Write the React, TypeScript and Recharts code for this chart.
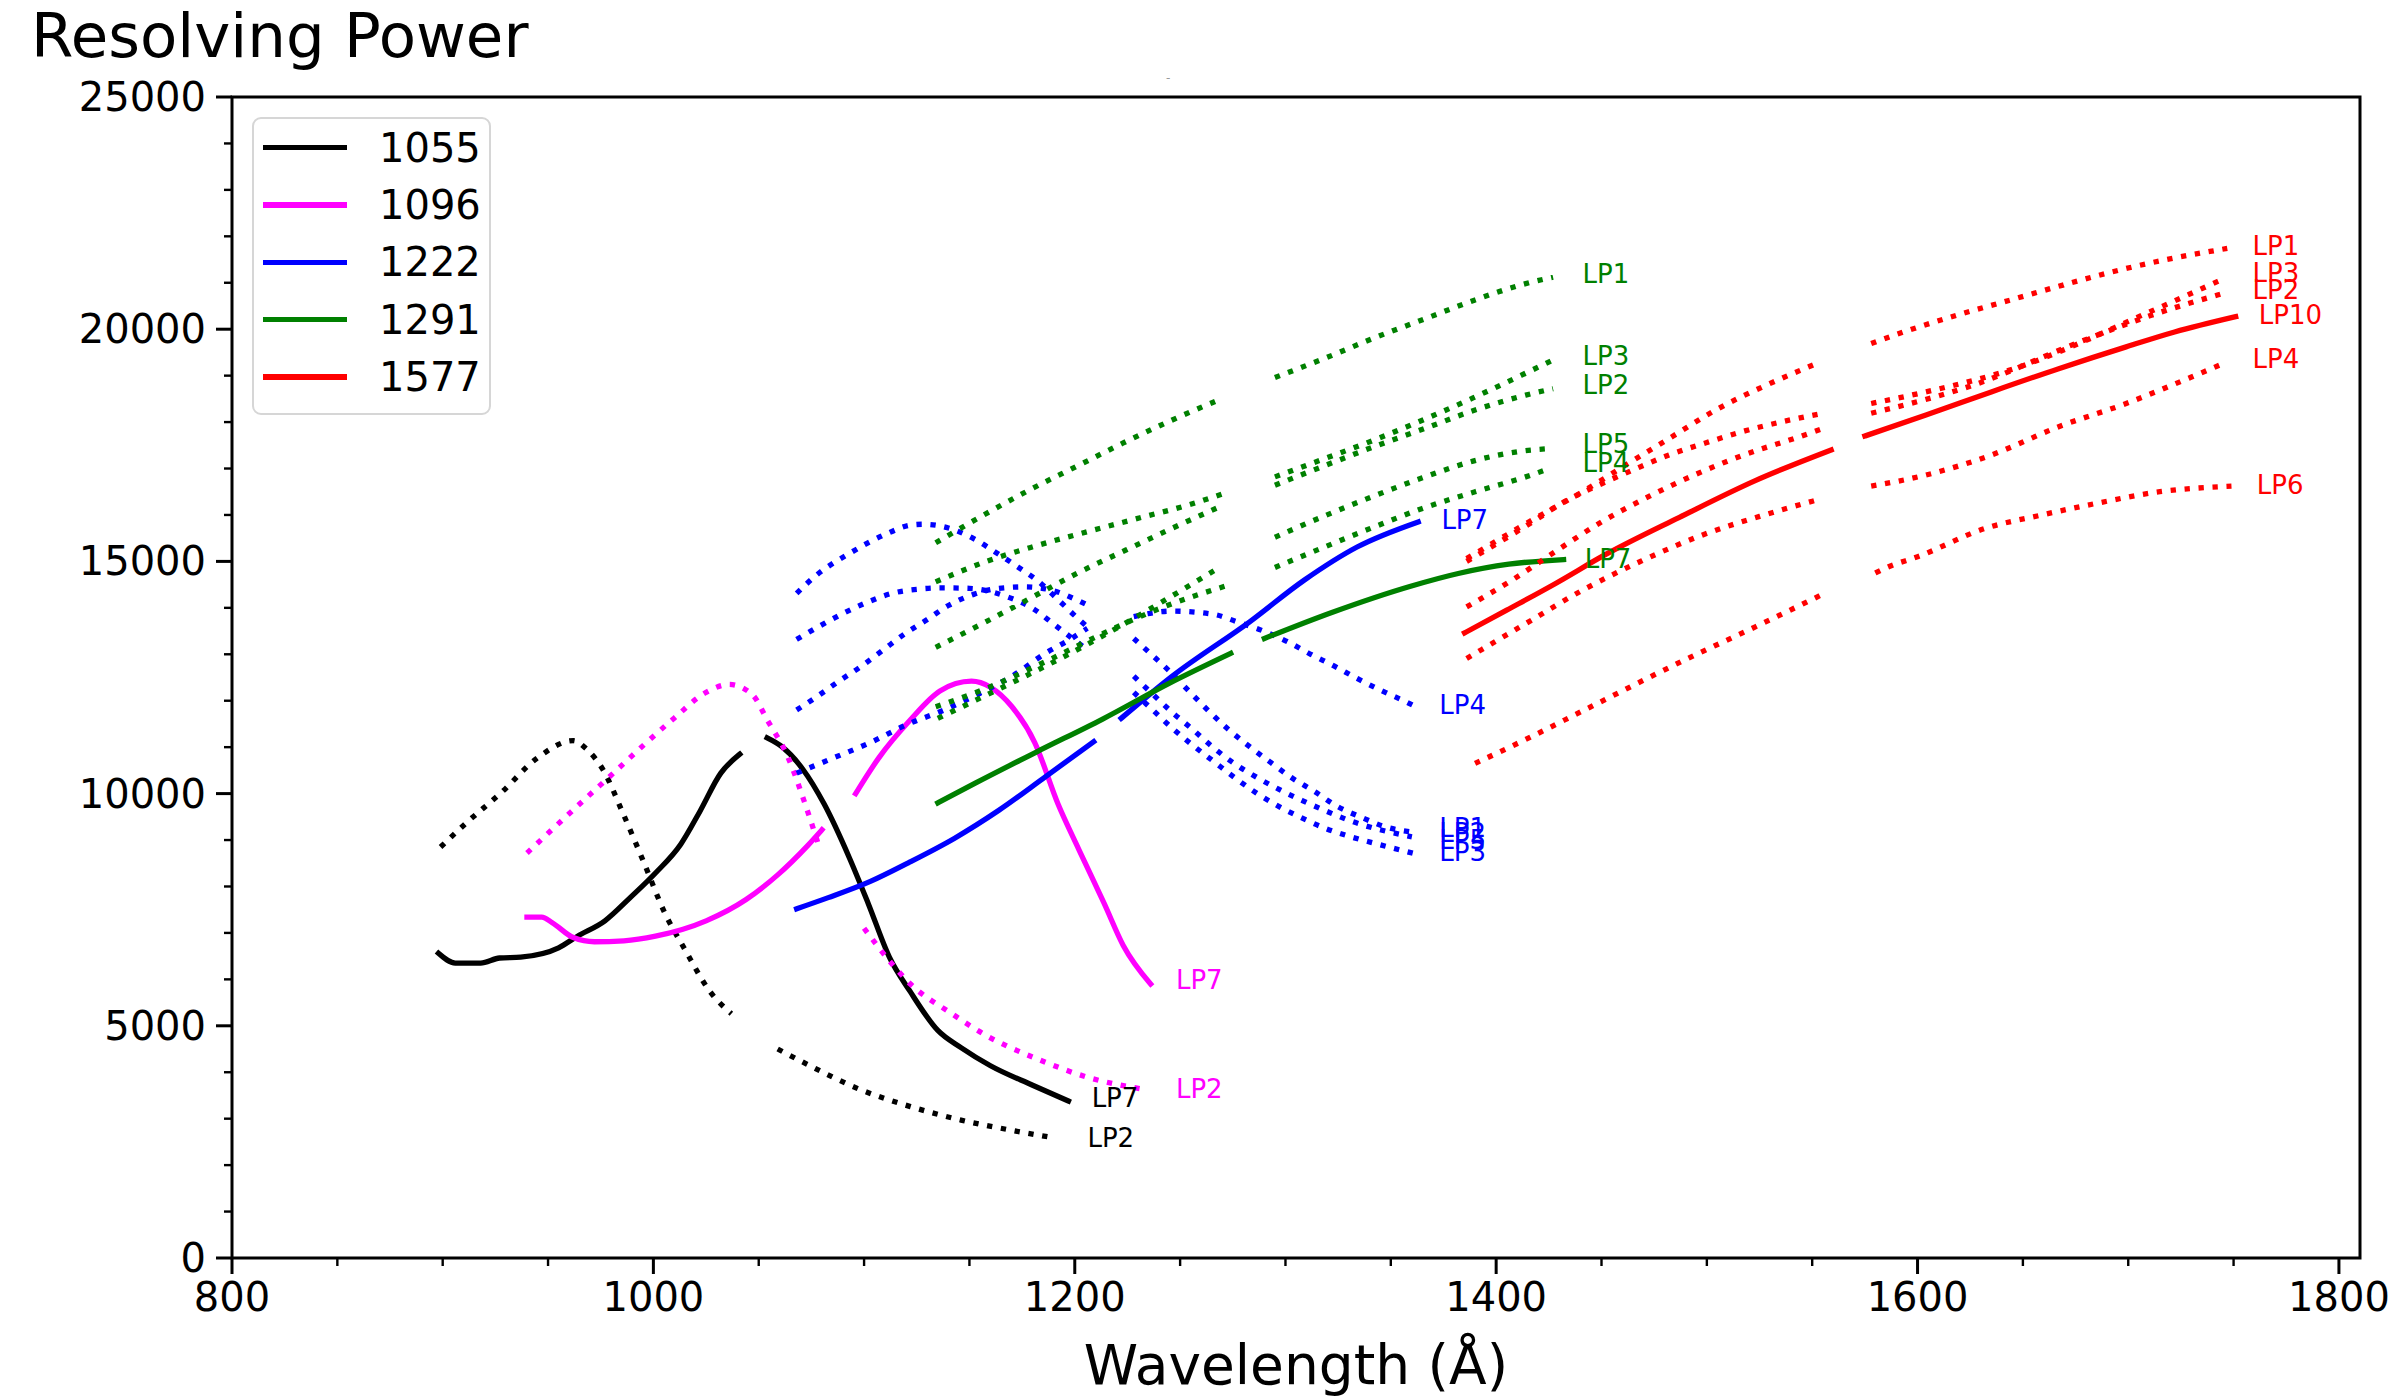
import React from "react";
import { LineChart, Line, XAxis, YAxis, ReferenceArea, ReferenceDot } from "recharts";

type Pt = [number, number];
type Tag = [number, number, string];

const FONT = "'DejaVu Sans', 'Liberation Sans', sans-serif";

// legend entries (grating centres) and their colours
const gratings = ["1055", "1096", "1222", "1291", "1577"];
const gratingColors = ["#000000", "#ff00ff", "#0000ff", "#008000", "#ff0000"];

const xMajor = [800, 1000, 1200, 1400, 1600, 1800];
const yMajor = [0, 5000, 10000, 15000, 20000, 25000];

// ---- 1055 (black) ----
const blackLP7a: Pt[] = [[898, 6560], [906, 6350], [918, 6350], [927, 6460], [937, 6480], [955, 6680], [964, 6930], [977, 7260], [989, 7760], [1001, 8290], [1013, 8910], [1022, 9610], [1032, 10440], [1041, 10850]];
const blackLP7b: Pt[] = [[1054, 11200], [1061, 11010], [1071, 10520], [1081, 9780], [1093, 8620], [1102, 7630], [1112, 6480], [1122, 5730], [1135, 4900], [1146, 4530], [1160, 4140], [1180, 3720], [1197, 3380]];
const blackLP2a: Pt[] = [[899, 8850], [911, 9360], [928, 10030], [945, 10770], [962, 11140], [968, 10970], [976, 10520], [986, 9530], [996, 8460], [1005, 7470], [1015, 6640], [1027, 5730], [1037, 5260]];
const blackLP2b: Pt[] = [[1059, 4500], [1073, 4170], [1098, 3630], [1122, 3260], [1146, 2970], [1170, 2750], [1191, 2580]];

// ---- 1096 (magenta) ----
const magentaLP7a: Pt[] = [[940, 7340], [947, 7340], [952, 7220], [962, 6900], [972, 6810], [986, 6830], [1001, 6930], [1025, 7260], [1044, 7720], [1059, 8250], [1073, 8870], [1080, 9220]];
const magentaLP7b: Pt[] = [[1096, 10000], [1107, 10770], [1122, 11590], [1136, 12210], [1151, 12420], [1160, 12290], [1170, 11880], [1181, 11100], [1192, 9780], [1202, 8790], [1214, 7630], [1223, 6730], [1236, 5900]];
const magentaLP2a: Pt[] = [[940, 8720], [952, 9230], [967, 9860], [981, 10440], [996, 11070], [1010, 11630], [1025, 12180], [1036, 12350], [1047, 12130], [1054, 11590], [1064, 10770], [1072, 9780], [1078, 8950]];
const magentaLP2b: Pt[] = [[1100, 7100], [1112, 6400], [1122, 5900], [1141, 5280], [1158, 4790], [1182, 4290], [1207, 3880], [1233, 3630]];

// ---- 1222 (blue) ----
const blueLP7a: Pt[] = [[1068, 7520], [1083, 7760], [1103, 8110], [1121, 8510], [1143, 9040], [1164, 9640], [1186, 10360], [1209, 11120]];
const blueLP7b: Pt[] = [[1222, 11620], [1246, 12520], [1283, 13700], [1309, 14600], [1334, 15310], [1363, 15850]];
const blueDotA: Pt[] = [[1068, 14310], [1077, 14690], [1093, 15170], [1110, 15580], [1122, 15780], [1128, 15800], [1140, 15720], [1152, 15490], [1162, 15210], [1173, 14880], [1183, 14560], [1192, 14180], [1201, 13790], [1206, 13590]];
const blueDotB: Pt[] = [[1068, 13320], [1079, 13610], [1090, 13880], [1101, 14110], [1113, 14310], [1125, 14400], [1138, 14430], [1150, 14420], [1169, 14220], [1180, 13990], [1190, 13650], [1200, 13300], [1205, 13130]];
const blueDotC: Pt[] = [[1068, 11800], [1078, 12100], [1088, 12420], [1099, 12750], [1109, 13090], [1119, 13430], [1130, 13750], [1140, 14050], [1152, 14290], [1164, 14420], [1176, 14450], [1189, 14380], [1200, 14190], [1206, 14060]];
const blueDotD: Pt[] = [[1068, 10440], [1085, 10760], [1103, 11100], [1120, 11480], [1138, 11800], [1155, 12160], [1171, 12550], [1186, 13020], [1197, 13300], [1206, 13560]];
const blueLP4: Pt[] = [[1228, 13810], [1246, 13930], [1266, 13860], [1277, 13700], [1289, 13510], [1301, 13270], [1312, 13000], [1323, 12750], [1334, 12480], [1345, 12230], [1357, 11980], [1361, 11890]];
const blueLP1: Pt[] = [[1228, 13340], [1237, 12970], [1246, 12590], [1255, 12170], [1264, 11760], [1273, 11380], [1283, 11010], [1293, 10670], [1303, 10340], [1314, 10040], [1324, 9740], [1336, 9490], [1347, 9290], [1360, 9170]];
const blueLP2: Pt[] = [[1228, 12530], [1237, 12140], [1246, 11760], [1256, 11380], [1265, 11020], [1275, 10670], [1286, 10360], [1297, 10090], [1308, 9850], [1319, 9630], [1331, 9410], [1360, 9070]];
const blueLP3: Pt[] = [[1228, 12180], [1237, 11800], [1246, 11420], [1256, 11040], [1266, 10690], [1276, 10340], [1286, 10020], [1297, 9720], [1308, 9470], [1319, 9250], [1331, 9070], [1344, 8910], [1361, 8710]];

// ---- 1291 (green) ----
const greenLP7a: Pt[] = [[1135, 9800], [1153, 10230], [1182, 10900], [1213, 11600], [1245, 12380], [1274, 13020]];
const greenLP7b: Pt[] = [[1290, 13340], [1322, 13900], [1359, 14460], [1382, 14740], [1406, 14940], [1432, 15040]];
const greenDotA: Pt[] = [[1134, 15400], [1156, 15980], [1179, 16550], [1201, 17050], [1223, 17550], [1246, 18040], [1269, 18490]];
const greenDotB: Pt[] = [[1134, 14560], [1158, 15000], [1182, 15340], [1206, 15640], [1231, 15940], [1255, 16230], [1273, 16500]];
const greenDotC: Pt[] = [[1134, 13150], [1157, 13680], [1179, 14210], [1201, 14740], [1224, 15240], [1247, 15730], [1270, 16200]];
const greenDotD: Pt[] = [[1134, 11870], [1158, 12265], [1186, 12840], [1214, 13460], [1241, 14000], [1273, 14490]];
const greenDotE: Pt[] = [[1135, 11620], [1147, 11880], [1207, 13240], [1269, 14880]];
const greenLP1: Pt[] = [[1295, 18960], [1319, 19380], [1342, 19810], [1366, 20220], [1390, 20630], [1413, 20970], [1427, 21120]];
const greenLP3: Pt[] = [[1295, 16820], [1319, 17220], [1343, 17630], [1366, 18060], [1389, 18520], [1412, 19010], [1429, 19380]];
const greenLP2: Pt[] = [[1295, 16640], [1318, 17050], [1342, 17470], [1366, 17860], [1390, 18260], [1414, 18580], [1427, 18720]];
const greenLP5: Pt[] = [[1295, 15520], [1318, 15970], [1341, 16390], [1365, 16800], [1389, 17160], [1413, 17380], [1426, 17430]];
const greenLP4: Pt[] = [[1295, 14870], [1318, 15300], [1342, 15740], [1365, 16140], [1390, 16500], [1414, 16820], [1426, 17010]];

// ---- 1577 (red) ----
const redLP10a: Pt[] = [[1385, 13460], [1405, 13950], [1428, 14520], [1452, 15150], [1487, 15950], [1523, 16740], [1559, 17400]];
const redLP10b: Pt[] = [[1575, 17700], [1604, 18150], [1635, 18650], [1667, 19150], [1699, 19620], [1722, 19940], [1751, 20270]];
const redDotA: Pt[] = [[1386, 15060], [1419, 15940], [1441, 16500], [1462, 17090], [1484, 17700], [1505, 18280], [1528, 18790], [1551, 19240]];
const redDotB: Pt[] = [[1386, 15000], [1419, 15900], [1431, 16250], [1448, 16630], [1465, 16970], [1482, 17290], [1500, 17560], [1518, 17810], [1536, 18010], [1555, 18190]];
const redDotC: Pt[] = [[1386, 14020], [1408, 14610], [1429, 15240], [1450, 15850], [1473, 16410], [1495, 16880], [1518, 17300], [1543, 17670], [1555, 17860]];
const redDotD: Pt[] = [[1386, 12910], [1414, 13660], [1441, 14380], [1469, 15010], [1498, 15570], [1528, 16010], [1552, 16320]];
const redDotE: Pt[] = [[1390, 10650], [1416, 11210], [1441, 11780], [1491, 12910], [1523, 13590], [1554, 14270]];
const redLP1: Pt[] = [[1578, 19690], [1596, 19980], [1620, 20320], [1645, 20640], [1669, 20950], [1692, 21230], [1717, 21490], [1742, 21700], [1747, 21740]];
const redLP3: Pt[] = [[1578, 18400], [1602, 18630], [1651, 19230], [1680, 19760], [1703, 20230], [1721, 20590], [1744, 21060]];
const redLP2: Pt[] = [[1578, 18190], [1628, 18820], [1675, 19690], [1711, 20300], [1745, 20770]];
const redLP4: Pt[] = [[1578, 16620], [1604, 16860], [1635, 17290], [1667, 17900], [1699, 18400], [1730, 18970], [1745, 19260]];
const redLP6: Pt[] = [[1580, 14750], [1586, 14880], [1600, 15100], [1632, 15710], [1659, 16000], [1686, 16260], [1715, 16500], [1749, 16620]];

// end-of-curve tags: [x, y, text]
const blackTags: Tag[] = [[1208, 3440, "LP7"], [1206, 2590, "LP2"]];
const magentaTags: Tag[] = [[1248, 5985, "LP7"], [1248, 3645, "LP2"]];
const blueTags: Tag[] = [[1374, 15890, "LP7"], [1373, 11905, "LP4"], [1373, 9260, "LP1"], [1373, 9150, "LP2"], [1373, 9000, "LP5"], [1373, 8750, "LP3"]];
const greenTags: Tag[] = [[1441, 21180, "LP1"], [1441, 19420, "LP3"], [1441, 18790, "LP2"], [1441, 17520, "LP5"], [1441, 17110, "LP4"], [1442, 15060, "LP7"]];
const redTags: Tag[] = [[1759, 21790, "LP1"], [1759, 21200, "LP3"], [1759, 20840, "LP2"], [1762, 20300, "LP10"], [1759, 19350, "LP4"], [1761, 16640, "LP6"]];

// [points, grating index, dotted]
const segments: [Pt[], number, boolean][] = [
  [blackLP7a, 0, false], [blackLP7b, 0, false], [blackLP2a, 0, true], [blackLP2b, 0, true],
  [magentaLP7a, 1, false], [magentaLP7b, 1, false], [magentaLP2a, 1, true], [magentaLP2b, 1, true],
  [blueDotA, 2, true], [blueDotB, 2, true], [blueDotC, 2, true], [blueDotD, 2, true],
  [blueLP4, 2, true], [blueLP1, 2, true], [blueLP2, 2, true], [blueLP3, 2, true],
  [blueLP7a, 2, false], [blueLP7b, 2, false],
  [greenDotA, 3, true], [greenDotB, 3, true], [greenDotC, 3, true], [greenDotD, 3, true], [greenDotE, 3, true],
  [greenLP1, 3, true], [greenLP3, 3, true], [greenLP2, 3, true], [greenLP5, 3, true], [greenLP4, 3, true],
  [greenLP7a, 3, false], [greenLP7b, 3, false],
  [redDotA, 4, true], [redDotB, 4, true], [redDotC, 4, true], [redDotD, 4, true], [redDotE, 4, true],
  [redLP1, 4, true], [redLP3, 4, true], [redLP2, 4, true], [redLP4, 4, true], [redLP6, 4, true],
  [redLP10a, 4, false], [redLP10b, 4, false],
];

const tagGroups: [Tag[], number][] = [
  [blackTags, 0], [magentaTags, 1], [blueTags, 2], [greenTags, 3], [redTags, 4],
];

const W = 2400;
const H = 1400;
const Y_AXIS_W = 232;
const X_AXIS_H = 142;
const PLOT_BOTTOM = H - X_AXIS_H;

const xTicks = Array.from({ length: 21 }, (_, i) => 800 + i * 50);
const yTicks = Array.from({ length: 26 }, (_, i) => i * 1000);

function XTick(props: any) {
  const { x, payload } = props;
  const v = payload.value;
  const major = xMajor.includes(v);
  return (
    <g>
      <line x1={x} x2={x} y1={PLOT_BOTTOM} y2={PLOT_BOTTOM + (major ? 16 : 8)} stroke="#000" strokeWidth={major ? 3 : 2.4} />
      {major && (
        <text x={x} y={PLOT_BOTTOM + 53} textAnchor="middle" fontSize={40} fontFamily={FONT} fill="#000">
          {v}
        </text>
      )}
    </g>
  );
}

function YTick(props: any) {
  const { y, payload } = props;
  const v = payload.value;
  const major = yMajor.includes(v);
  return (
    <g>
      <line x1={Y_AXIS_W - (major ? 16 : 8)} x2={Y_AXIS_W} y1={y} y2={y} stroke="#000" strokeWidth={major ? 3 : 2.4} />
      {major && (
        <text x={Y_AXIS_W - 26} y={y} textAnchor="end" dominantBaseline="central" fontSize={40} fontFamily={FONT} fill="#000">
          {v}
        </text>
      )}
    </g>
  );
}

function AxisTitle(props: any) {
  const vb = props.viewBox;
  return (
    <text x={vb.x + vb.width / 2} y={vb.y + 126} textAnchor="middle" fontSize={55} fontFamily={FONT} fill="#000">
      Wavelength (Å)
    </text>
  );
}

function LegendBox() {
  return (
    <div
      style={{
        position: "absolute",
        left: 252,
        top: 117,
        width: 239,
        height: 298,
        boxSizing: "border-box",
        border: "2.5px solid #d6d6d6",
        borderRadius: 9,
        background: "rgba(255,255,255,0.8)",
        fontFamily: FONT,
      }}
    >
      {gratings.map((g, i) => (
        <div
          key={g}
          style={{ position: "absolute", left: 9, top: 8.5 + i * 57.4, height: 40, display: "flex", alignItems: "center" }}
        >
          <div style={{ width: 84, height: 5.5, background: gratingColors[i] }} />
          <span style={{ marginLeft: 32, fontSize: 40, lineHeight: "40px", color: "#000" }}>{g}</span>
        </div>
      ))}
    </div>
  );
}

export default function App() {
  return (
    <div style={{ position: "absolute", left: 0, top: 0, width: W, height: H, background: "#fff" }}>
      <LineChart width={W} height={H} margin={{ top: 97, right: 40, bottom: 0, left: 0 }}>
        <XAxis
          type="number"
          dataKey="x"
          domain={[800, 1810]}
          allowDataOverflow
          ticks={xTicks}
          interval={0}
          tick={<XTick />}
          tickLine={false}
          axisLine={false}
          height={X_AXIS_H}
          label={<AxisTitle />}
        />
        <YAxis
          type="number"
          domain={[0, 25000]}
          allowDataOverflow
          ticks={yTicks}
          interval={0}
          tick={<YTick />}
          tickLine={false}
          axisLine={false}
          width={Y_AXIS_W}
        />
        {segments.map(([pts, gi, dotted], i) => (
          <Line
            key={`seg-${i}`}
            data={pts.map(([x, y]) => ({ x, y }))}
            dataKey="y"
            type="monotone"
            stroke={gratingColors[gi]}
            strokeWidth={5.3}
            strokeDasharray={dotted ? "5.3 8.7" : undefined}
            strokeLinecap={dotted ? "butt" : "square"}
            dot={false}
            activeDot={false}
            legendType="none"
            isAnimationActive={false}
          />
        ))}
        {tagGroups.flatMap(([tags, gi]) =>
          tags.map(([x, y, t], j) => (
            <ReferenceDot
              key={`tag-${gi}-${j}`}
              x={x}
              y={y}
              r={1}
              shape={(p: any) => (
                <text x={p.cx} y={p.cy} dominantBaseline="central" fontSize={26} fontFamily={FONT} fill={gratingColors[gi]}>
                  {t}
                </text>
              )}
            />
          ))
        )}
        <ReferenceArea x1={800} x2={1810} y1={0} y2={25000} fill="none" stroke="#000" strokeWidth={3} />
      </LineChart>
      <svg width={W} height={100} style={{ position: "absolute", left: 0, top: 0, pointerEvents: "none" }}>
        <text x={31} y={57} fontSize={61} fontFamily={FONT} fill="#000">
          Resolving Power
        </text>
        <text x={1166} y={82} fontSize={12} fontFamily={FONT} fill="#9a9a9a">
          -
        </text>
      </svg>
      <LegendBox />
    </div>
  );
}
